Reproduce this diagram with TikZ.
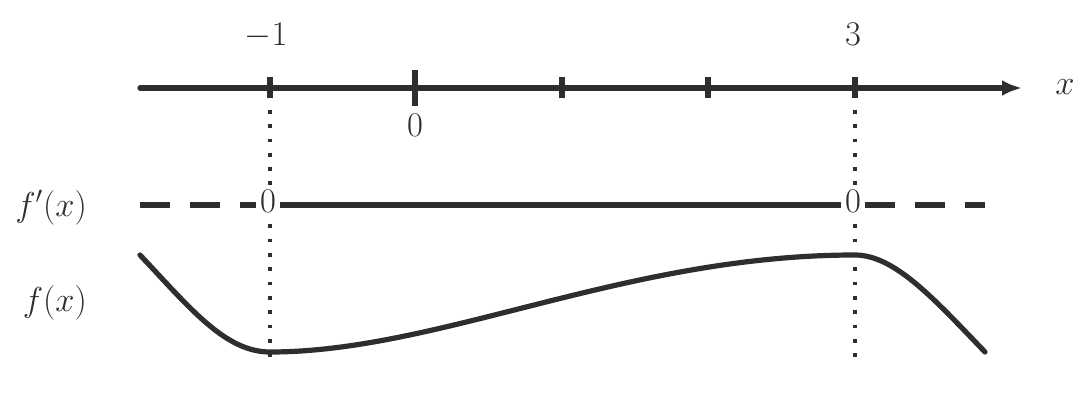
\documentclass[tikz,border=0pt]{standalone}
\usetikzlibrary{arrows.meta}
\definecolor{ink}{HTML}{2E2E2E}
\begin{document}
\begin{tikzpicture}[x=0.5pt,y=-0.5pt,
  every node/.style={font=\fontsize{18.5}{22}\selectfont, text=ink},
  axisline/.style={draw=ink, line width=2.6pt},
  ticmark/.style={draw=ink, line width=2.6pt},
  guide/.style={draw=ink, line width=1.9pt, dash pattern=on 1.9pt off 5.25pt},
  zero/.style={fill=white, inner sep=1.8pt, anchor=base},
  fpline/.style={draw=ink, line width=2.6pt},
  curve/.style={draw=ink, line width=2.6pt, line cap=round},
]
\useasboundingbox (0,0) rectangle (1088,401);
% coordinates
\coordinate (axl) at (140,88);
\coordinate (axr) at (1022,88);
\coordinate (g1t) at (270,110);
\coordinate (g1b) at (270,357);
\coordinate (g2t) at (855,110);
\coordinate (g2b) at (855,357);
\coordinate (fpl) at (140,205);
\coordinate (fpr) at (985,205);
% guides
\draw[guide] (g1t) -- (g1b);
\draw[guide] (g2t) -- (g2b);
% axis
\draw[axisline, line cap=round, -{Latex[length=10pt,width=8pt]}] (axl) -- (axr);
\draw[ticmark] (270,77) -- (270,98);
\draw[ticmark] (415,70) -- (415,106);
\draw[ticmark] (562,77) -- (562,98);
\draw[ticmark] (708,77) -- (708,98);
\draw[ticmark] (855,77) -- (855,98);
\node[anchor=base] (lm1) at (266,46) {$-1$};
\node[anchor=base] (l3) at (853,46) {$3$};
\node[anchor=base] (l0) at (415,137) {$0$};
\node[anchor=base] (lx) at (1065,95) {$x$};
% f' row
\node[zero] (z1) at (268,213) {$0$};
\node[zero] (z2) at (853,213) {$0$};
\draw[fpline, dash pattern=on 15pt off 10pt] (fpl) -- (fpl -| z1.west);
\draw[fpline] (fpl -| z1.east) -- (fpl -| z2.west);
\draw[fpline, dash pattern=on 15pt off 10pt] (fpl -| z2.east) -- (fpr);
% labels
\node[anchor=base east] (lfp) at (94,216) {$f'(x)$};
\node[anchor=base east] (lf) at (94,311) {$f(x)$};
% curve
\draw[curve] (140,255) .. controls (190,308) and (225,352) .. (270,352)
  .. controls (440,352) and (625,255) .. (855,255)
  .. controls (895,255) and (935,300) .. (985,352);
\end{tikzpicture}
\end{document}
